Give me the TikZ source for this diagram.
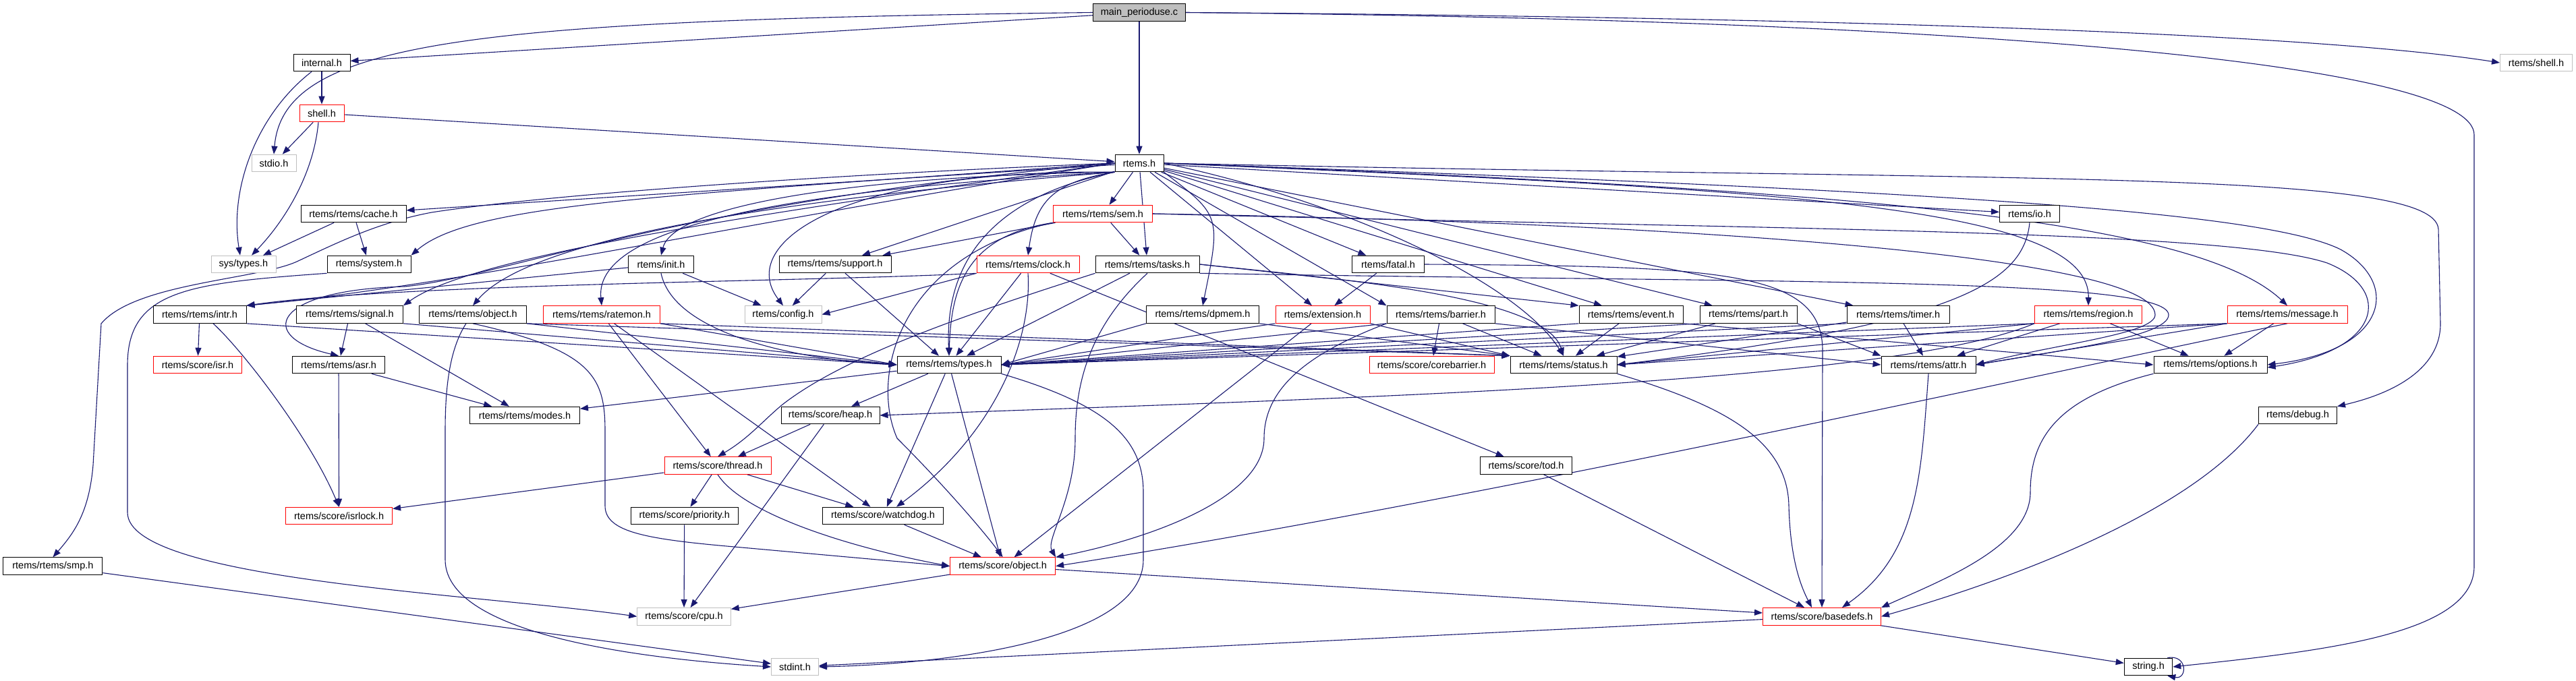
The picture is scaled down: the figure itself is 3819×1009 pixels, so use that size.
\documentclass[tikz,border=0pt]{standalone}
\usepackage{fontspec}
\setmainfont{Liberation Sans}
\usetikzlibrary{arrows.meta, backgrounds}
\definecolor{edgeblue}{HTML}{191970}
\definecolor{boxgray}{HTML}{BFBFBF}
\tikzset{
  hdr/.style={draw=black, line width=1pt, fill=white, minimum height=25.6, inner sep=2pt, font=\fontsize{14.5}{17}\selectfont},
  hdrgray/.style={hdr, draw=boxgray},
  hdrred/.style={hdr, draw=red},
  inc/.style={draw=edgeblue, line width=1.1pt, -{Triangle[length=12pt,width=9pt]}},
}
\begin{document}
\begin{tikzpicture}[x=1pt, y=-1pt]
\useasboundingbox (0,0) rectangle (3819,1009);
%ファイルのノード
\node[hdr, fill=boxgray, minimum width=137] (main) at (1689,18.5) {main\_perioduse.c};
\node[hdr, minimum width=84] (internal) at (477,93) {internal.h};
\node[hdrgray, minimum width=107] (rshell) at (3760,93) {rtems/shell.h};
\node[hdrred, minimum width=66] (shell) at (477,168) {shell.h};
\node[hdrgray, minimum width=66] (stdio) at (406,242) {stdio.h};
\node[hdr, minimum width=72] (rtems) at (1689,242) {rtems.h};
\node[hdr, minimum width=156] (cache) at (524,317) {rtems/rtems/cache.h};
\node[hdrred, minimum width=147] (sem) at (1635,317) {rtems/rtems/sem.h};
\node[hdr, minimum width=89] (io) at (3009,317) {rtems/io.h};
\node[hdrgray, minimum width=96] (systypes) at (361,392) {sys/types.h};
\node[hdr, minimum width=124] (systemh) at (547,392) {rtems/system.h};
\node[hdr, minimum width=97] (init) at (980,392) {rtems/init.h};
\node[hdr, minimum width=166] (support) at (1238,392) {rtems/rtems/support.h};
\node[hdrred, minimum width=152] (clock) at (1524,392) {rtems/rtems/clock.h};
\node[hdr, minimum width=154] (tasks) at (1701,392) {rtems/rtems/tasks.h};
\node[hdr, minimum width=107] (fatal) at (2058,392) {rtems/fatal.h};
\node[hdr, minimum width=138] (intr) at (296,466.5) {rtems/rtems/intr.h};
\node[hdr, minimum width=158] (signal) at (518.5,466.5) {rtems/rtems/signal.h};
\node[hdr, minimum width=159] (robject) at (701,466.5) {rtems/rtems/object.h};
\node[hdrred, minimum width=173] (ratemon) at (892,466.5) {rtems/rtems/ratemon.h};
\node[hdrgray, minimum width=114] (config) at (1161,466.5) {rtems/config.h};
\node[hdr, minimum width=167] (dpmem) at (1783,466.5) {rtems/rtems/dpmem.h};
\node[hdrred, minimum width=140] (extension) at (1961,466.5) {rtems/extension.h};
\node[hdr, minimum width=160] (barrier) at (2136,466.5) {rtems/rtems/barrier.h};
\node[hdr, minimum width=154] (event) at (2418,466.5) {rtems/rtems/event.h};
\node[hdr, minimum width=144] (part) at (2592,466.5) {rtems/rtems/part.h};
\node[hdr, minimum width=152] (timer) at (2814,466.5) {rtems/rtems/timer.h};
\node[hdrred, minimum width=159] (region) at (3096,466.5) {rtems/rtems/region.h};
\node[hdrred, minimum width=178] (message) at (3391,466.5) {rtems/rtems/message.h};
\node[hdrred, minimum width=131] (isr) at (293,541) {rtems/score/isr.h};
\node[hdr, minimum width=137] (asr) at (502,541) {rtems/rtems/asr.h};
\node[hdr, minimum width=154] (types) at (1407,541) {rtems/rtems/types.h};
\node[hdrred, minimum width=185] (corebarrier) at (2122.5,541) {rtems/score/corebarrier.h};
\node[hdr, minimum width=158] (status) at (2318,541) {rtems/rtems/status.h};
\node[hdr, minimum width=140] (attr) at (2859,541) {rtems/rtems/attr.h};
\node[hdr, minimum width=168] (options) at (3277,541) {rtems/rtems/options.h};
\node[hdr, minimum width=163] (modes) at (778,616) {rtems/rtems/modes.h};
\node[hdr, minimum width=146] (heap) at (1231,616) {rtems/score/heap.h};
\node[hdr, minimum width=116] (debug) at (3406.5,616) {rtems/debug.h};
\node[hdrred, minimum width=158] (thread) at (1064,690.5) {rtems/score/thread.h};
\node[hdr, minimum width=136] (tod) at (2262.5,690.5) {rtems/score/tod.h};
\node[hdrred, minimum width=158] (isrlock) at (502.6,765) {rtems/score/isrlock.h};
\node[hdr, minimum width=159] (priority) at (1014.7,765) {rtems/score/priority.h};
\node[hdr, minimum width=179] (watchdog) at (1309,765) {rtems/score/watchdog.h};
\node[hdr, minimum width=147] (smp) at (78.4,839.7) {rtems/rtems/smp.h};
\node[hdrred, minimum width=156] (sobject) at (1486.6,839.7) {rtems/score/object.h};
\node[hdrgray, minimum width=138.5] (cpu) at (1014,914.3) {rtems/score/cpu.h};
\node[hdrred, minimum width=175] (basedefs) at (2701,914.3) {rtems/score/basedefs.h};
\node[hdrgray, minimum width=70] (stdint) at (1178.5,989) {stdint.h};
\node[hdr, minimum width=71.5] (string) at (3185,989) {string.h};

\begin{scope}[on background layer]
\fill[white] (0,0) rectangle (3819,1009);
%まっすぐな矢印
\foreach \a/\b in {main/rtems, main/internal, internal/shell, shell/stdio, shell/rtems,
  rtems/cache, rtems/sem, rtems/support, rtems/tasks, rtems/fatal, rtems/extension,
  rtems/barrier.north west, rtems/event, rtems/part, rtems/timer, rtems/io,
  cache/systypes, cache/systemh, sem/support, sem/tasks,
  support/config, support/types, clock.south west/config.east, clock/types, clock/tod,
  tasks/types, tasks.east/event.north west, init/intr.north east, init/config,
  fatal/extension, intr/isr, intr.south east/types.west, signal/asr, signal/modes,
  signal.south east/types.west, robject.south east/types.west, robject.south east/status.north west,
  ratemon.south east/types.west, ratemon/thread, ratemon/watchdog, ratemon.south east/status.north west,
  dpmem.south west/types.east, dpmem.south east/status.north west,
  extension.south west/types.east, extension.south east/status.north west, extension/sobject,
  barrier.south west/types.east, barrier/corebarrier, barrier/status, barrier.south east/attr.west,
  event.south west/types.east, event/status, event.south east/options.west,
  part.south west/types.east, part/status, part.south east/attr.north west,
  timer.south west/types.east, timer/status, timer/attr,
  region.south west/types.east, region.south west/status.east, region/attr, region/options,
  message.south west/types.east, message.south west/status.east, message.south west/attr.east, message/options,
  asr/modes, asr/isrlock, types/modes, types/heap, types/watchdog, types/sobject,
  heap/thread, heap/cpu, thread/isrlock, thread/priority, thread/watchdog,
  priority/cpu, watchdog/sobject, sobject/cpu, sobject/basedefs, tod/basedefs,
  smp/stdint, basedefs/stdint, basedefs/string}
  \draw[inc] (\a) -- (\b);
%曲がった矢印
\draw[inc] (main.west) .. controls (700,30) and (420,60) .. (stdio.north);
\draw[inc] (main.east) .. controls (2600,25) and (3400,45) .. (rshell.west);
\draw[inc] (main.east) .. controls (3000,30) and (3668,100) .. (3668,200) -- (3668,840) .. controls (3668,940) and (3450,965) .. (string.east);
\draw[inc] ([xshift=-8pt]string.north east) .. controls +(30,-6) and +(30,6) .. ([xshift=-8pt]string.south east);
\draw[inc] ([xshift=-15pt]internal.south) .. controls (380,170) and (340,280) .. ([xshift=-5pt]systypes.north);
\draw[inc] ([xshift=-5pt]shell.south) .. controls (465,260) and (420,330) .. ([xshift=12pt]systypes.north);
\draw[inc] (rtems.west) .. controls (1000,290) and (700,300) .. (systemh.north east);
\draw[inc] (rtems.west) .. controls (1100,330) and (700,420) .. (intr.north east);
\draw[inc] (rtems.west) .. controls (1100,320) and (700,380) .. (signal.north east);
\draw[inc] (rtems.south west) .. controls (1100,300) and (780,360) .. (robject.north);
\draw[inc] (rtems.south west) .. controls (1200,280) and (880,330) .. (ratemon.north);
\draw[inc] (rtems.south west) .. controls (1300,260) and (1000,300) .. (init.north);
\draw[inc] (rtems.south west) .. controls (1250,250) and (1090,360) .. (config.north);
\draw[inc] (rtems.west) .. controls (1000,300) and (750,410) .. (600,425) .. controls (400,430) and (380,500) .. (asr.north);
\draw[inc] (rtems.west) .. controls (1200,260) and (800,290) .. (640,315) .. controls (560,330) and (500,360) .. (440,388) .. controls (380,415) and (200,420) .. (150,480) -- (138,690) .. controls (132,760) and (110,790) .. (smp.north);
\draw[inc] (systemh.south west) .. controls (280,420) and (190,430) .. (189,540) -- (189,760) .. controls (189,860) and (700,880) .. (cpu.west);
\draw[inc] (rtems.south west) .. controls (1560,270) and (1535,300) .. (clock.north);
\draw[inc] (rtems.south east) .. controls (1810,320) .. (dpmem.north);
\draw[inc] (rtems.south west) .. controls (1480,290) and (1400,380) .. (types.north);
\draw[inc] (rtems.east) .. controls (2000,300) and (2250,420) .. (status.north);
\draw[inc] (rtems.east) .. controls (2600,280) and (3099,300) .. (region.north);
\draw[inc] (rtems.east) .. controls (2700,280) and (3250,320) .. (message.north);
\draw[inc] (rtems.east) .. controls (2800,280) and (3350,310) .. (3470,370) .. controls (3560,420) and (3540,520) .. (options.east);
\draw[inc] (rtems.east) .. controls (3000,270) and (3610,250) .. (3615,340) -- (3618,480) .. controls (3618,560) and (3520,590) .. (debug.north east);
\draw[inc] (sem.south west) .. controls (1430,350) and (1410,430) .. (types.north);
\draw[inc] (sem.south west) .. controls (1330,380) and (1290,560) .. (1330,650) .. controls (1400,720) and (1460,790) .. (sobject.north);
\draw[inc] (sem.east) .. controls (2500,330) and (3195,380) .. (3195,467) .. controls (3195,495) and (3050,510) .. (attr.east);
\draw[inc] (sem.east) .. controls (2600,340) and (3300,340) .. (3450,390) .. controls (3550,430) and (3530,520) .. ([yshift=-4pt]options.east);
\draw[inc] (clock.south) .. controls (1530,500) and (1480,640) .. ([xshift=20pt]watchdog.north);
\draw[inc] (clock.south west) .. controls (1200,418) and (600,420) .. (intr.north east);
\draw[inc] (tasks.south west) .. controls (1420,470) and (1250,530) .. (1160,600) .. controls (1130,625) and (1110,650) .. (thread.north);
\draw[inc] (tasks.south) .. controls (1620,480) and (1594,560) .. (1594,650) .. controls (1594,740) and (1550,800) .. (sobject.north east);
\draw[inc] (tasks.east) .. controls (2000,415) and (2290,440) .. (status.north);
\draw[inc] (tasks.south east) .. controls (2600,420) and (3215,410) .. (3215,467) .. controls (3215,500) and (3050,520) .. (attr.east);
\draw[inc] (init.south) .. controls (1000,500) and (1200,535) .. (types.west);
\draw[inc] ([xshift=20pt]intr.south) .. controls (360,520) and (460,650) .. (isrlock.north);
\draw[inc] (robject.south) .. controls (880,520) and (897,560) .. (897,640) -- (897,750) .. controls (897,790) and (960,800) .. (1100,812) -- (sobject.west);
\draw[inc] ([xshift=-10pt]robject.south) .. controls (665,520) and (660,580) .. (660,640) -- (660,830) .. controls (660,950) and (1000,980) .. (stdint.west);
\draw[inc] (thread.south) .. controls (1100,760) and (1250,810) .. (sobject.west);
\draw[inc] (types.south east) .. controls (1640,600) and (1695,650) .. (1695,730) -- (1695,830) .. controls (1695,950) and (1400,985) .. (stdint.east);
\draw[inc] (barrier.south west) .. controls (1950,520) and (1874,570) .. (1874,650) .. controls (1874,740) and (1700,800) .. (sobject.north east);
\draw[inc] (message.south) .. controls (3000,560) and (2200,740) .. (sobject.east);
\draw[inc] (region.south west) .. controls (2800,570) and (2000,590) .. (heap.east);
\draw[inc] (io.south) .. controls (3000,420) and (2900,480) .. (status.east);
\draw[inc] (fatal.east) .. controls (2550,395) and (2702,400) .. (2702,520) -- (basedefs.north);
\draw[inc] (status.south east) .. controls (2550,600) and (2650,650) .. (2652,750) .. controls (2654,830) and (2670,870) .. ([xshift=-15pt]basedefs.north);
\draw[inc] (attr.south) .. controls (2848,700) and (2846,820) .. ([xshift=30pt]basedefs.north);
\draw[inc] (options.south west) .. controls (3050,590) and (3010,650) .. (3010,730) .. controls (3010,810) and (2880,860) .. (basedefs.north east);
\draw[inc] (debug.south west) .. controls (3250,760) and (2980,860) .. (basedefs.east);
\end{scope}
\end{tikzpicture}
\end{document}
